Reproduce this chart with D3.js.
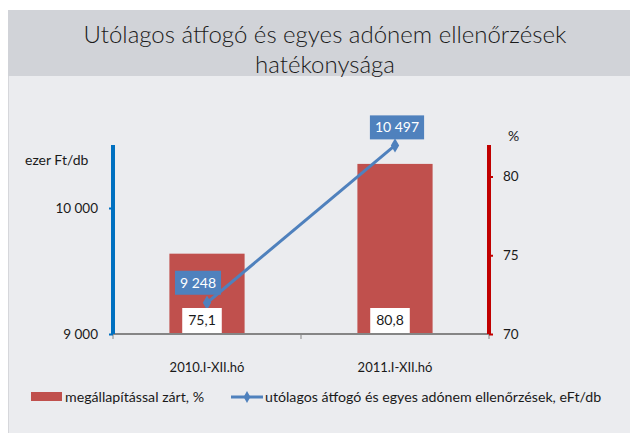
<!DOCTYPE html>
<html>
<head>
<meta charset="utf-8">
<script src="https://cdn.jsdelivr.net/npm/d3@7"></script>
<style>
  body { margin: 0; background: #fff; }
  svg text { font-family: "Lato", "Noto Sans", sans-serif; fill: #1a1a1a; }
</style>
</head>
<body>
<svg width="630" height="433"></svg>
<script>
var categories = ['2010.I-XII.hó', '2011.I-XII.hó'];
var barValues = [75.1, 80.8];          // megállapítással zárt, %
var lineValues = [9248, 10497];        // eFt/db
var leftTicks = [9000, 10000];
var rightTicks = [70, 75, 80];
var barName = 'megállapítással zárt, %';
var lineName = 'utólagos átfogó és egyes adónem ellenőrzések, eFt/db';
var titleLines = ['Utólagos átfogó és egyes adónem ellenőrzések', 'hatékonysága'];

var svg = d3.select('svg'),
    width = +svg.attr('width'),
    height = +svg.attr('height');

var fmtThousand = function(v) { return d3.format(',')(v).replace(/,/g, ' '); };
var fmtComma = function(v) { return d3.format('.1f')(v).replace('.', ','); };

// panel background
svg.append('rect').attr('x', 8).attr('y', 10).attr('width', width - 8).attr('height', height - 10)
    .attr('fill', '#ebecef');
svg.append('rect').attr('x', 8).attr('y', 10).attr('width', width - 8).attr('height', 66)
    .attr('fill', '#d1d3d8');
svg.append('line').attr('x1', 8.5).attr('x2', 8.5).attr('y1', 76).attr('y2', height)
    .attr('stroke', '#d6d7db');

svg.selectAll('.title').data(titleLines).enter().append('text')
    .attr('class', 'title')
    .attr('x', 325).attr('y', function(d, i) { return 43 + i * 30; })
    .attr('text-anchor', 'middle')
    .attr('font-size', 24).attr('font-weight', 300)
    .text(function(d) { return d; });

var plot = { left: 113, right: 489, top: 145, bottom: 334 };

var x = d3.scaleBand().domain(categories).range([plot.left, plot.right]).paddingInner(0.6).paddingOuter(0.3);
var xCenter = function(d) { return x(d) + x.bandwidth() / 2; };
var yLeft = d3.scaleLinear().domain([9000, 10500]).range([plot.bottom, plot.top]);
var yRight = d3.scaleLinear().domain([70, 82]).range([plot.bottom, plot.top]);

// bars
svg.selectAll('.bar').data(barValues).enter().append('rect')
    .attr('class', 'bar')
    .attr('x', function(d, i) { return x(categories[i]); })
    .attr('width', x.bandwidth())
    .attr('y', function(d) { return yRight(d); })
    .attr('height', function(d) { return plot.bottom - yRight(d); })
    .attr('fill', '#c0504d');

// x axis
var xAxis = svg.append('g').attr('transform', 'translate(0,' + plot.bottom + ')');
xAxis.append('line').attr('x1', plot.left).attr('x2', plot.right).attr('stroke', '#858585').attr('stroke-width', 2);
svg.selectAll('.xtick').data([plot.left, (plot.left + plot.right) / 2, plot.right]).enter().append('line')
    .attr('x1', function(d) { return d; }).attr('x2', function(d) { return d; })
    .attr('y1', plot.bottom).attr('y2', plot.bottom + 5)
    .attr('stroke', '#858585').attr('stroke-width', 1);
svg.selectAll('.xlabel').data(categories).enter().append('text')
    .attr('x', xCenter).attr('y', 372)
    .attr('text-anchor', 'middle').attr('font-size', 13)
    .text(function(d) { return d; });

// left axis
var leftAxis = svg.append('g').attr('transform', 'translate(' + plot.left + ',0)')
    .call(d3.axisLeft(yLeft).tickValues(leftTicks).tickFormat(fmtThousand).tickSize(4).tickPadding(11));
leftAxis.select('.domain').attr('stroke', '#0070c0').attr('stroke-width', 4).attr('d', 'M0,' + plot.top + 'V' + plot.bottom);
leftAxis.selectAll('.tick line').attr('stroke', '#0070c0').attr('stroke-width', 2);
leftAxis.selectAll('.tick text').attr('font-size', 13.5).attr('fill', '#1a1a1a');
svg.append('text').attr('x', 25).attr('y', 165).attr('font-size', 14).text('ezer Ft/db');

// right axis
var rightAxis = svg.append('g').attr('transform', 'translate(' + plot.right + ',0)')
    .call(d3.axisRight(yRight).tickValues(rightTicks).tickSize(4).tickPadding(10));
rightAxis.select('.domain').attr('stroke', '#c00000').attr('stroke-width', 4).attr('d', 'M0,' + plot.top + 'V' + plot.bottom);
rightAxis.selectAll('.tick line').attr('stroke', '#c00000').attr('stroke-width', 2);
rightAxis.selectAll('.tick text').attr('font-size', 13.5).attr('fill', '#1a1a1a');
svg.append('text').attr('x', 508).attr('y', 141).attr('font-size', 14).text('%');

// line series
var line = d3.line()
    .x(function(d, i) { return xCenter(categories[i]); })
    .y(function(d) { return yLeft(d); });
svg.append('path').datum(lineValues)
    .attr('d', line).attr('fill', 'none')
    .attr('stroke', '#4f81bd').attr('stroke-width', 3);
var diamond = d3.symbol().type(d3.symbolDiamond).size(60);
svg.selectAll('.marker').data(lineValues).enter().append('path')
    .attr('d', diamond)
    .attr('transform', function(d, i) { return 'translate(' + xCenter(categories[i]) + ',' + yLeft(d) + ')'; })
    .attr('fill', '#4f81bd');

// line data labels (blue boxes)
var lineLabelOffset = [{ dx: -9, dy: -20 }, { dx: 2, dy: -18 }];
lineValues.forEach(function(v, i) {
  var cx = xCenter(categories[i]) + lineLabelOffset[i].dx,
      cy = yLeft(v) + lineLabelOffset[i].dy;
  var g = svg.append('g');
  var t = g.append('text').attr('x', cx).attr('y', cy + 5)
      .attr('text-anchor', 'middle').attr('font-size', 14)
      .style('fill', '#fff').text(fmtThousand(v));
  var w = t.node().getComputedTextLength() + 10;
  g.insert('rect', 'text').attr('x', cx - w / 2).attr('y', cy - 12).attr('width', w).attr('height', 24)
      .attr('fill', '#4f81bd');
});

// bar data labels (white boxes)
barValues.forEach(function(v, i) {
  var cx = xCenter(categories[i]) - 5,
      cy = plot.bottom - 14;
  var g = svg.append('g');
  var t = g.append('text').attr('x', cx).attr('y', cy + 5)
      .attr('text-anchor', 'middle').attr('font-size', 14)
      .text(fmtComma(v));
  var w = t.node().getComputedTextLength() + 12;
  g.insert('rect', 'text').attr('x', cx - w / 2).attr('y', cy - 12).attr('width', w).attr('height', 25)
      .attr('fill', '#fff');
});

// legend
var legend = svg.append('g').attr('transform', 'translate(0,397)');
legend.append('rect').attr('x', 31).attr('y', -5).attr('width', 31).attr('height', 9).attr('fill', '#c0504d');
legend.append('text').attr('x', 65).attr('y', 5).attr('font-size', 14.2).text(barName);
legend.append('line').attr('x1', 231).attr('x2', 263).attr('y1', 0).attr('y2', 0)
    .attr('stroke', '#4f81bd').attr('stroke-width', 3);
legend.append('path').attr('d', d3.symbol().type(d3.symbolDiamond).size(40))
    .attr('transform', 'translate(247,0)').attr('fill', '#4f81bd');
legend.append('text').attr('x', 265).attr('y', 5).attr('font-size', 14.2).text(lineName);
</script>
</body>
</html>
